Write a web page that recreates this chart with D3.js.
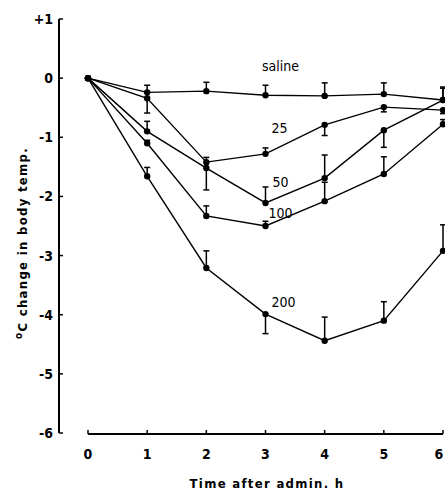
<!DOCTYPE html>
<html lang="en">
<head>
<meta charset="utf-8">
<style>
  body { margin: 0; background: #fff; }
  svg text { font-family: "DejaVu Sans Condensed", "DejaVu Sans", sans-serif; fill: #000; }
  .tick-label { font-size: 14px; font-weight: bold; }
  .series-label { font-size: 14px; }
  .axis-title { font-size: 13px; font-weight: bold; letter-spacing: 1.3px; }
</style>
<script src="https://cdn.jsdelivr.net/npm/d3@7"></script>
</head>
<body>
<svg width="445" height="492"></svg>
<script>
// hours after administration
var hours = [0, 1, 2, 3, 4, 5, 6];
var yTicks = [1, 0, -1, -2, -3, -4, -5, -6];
var yTickLabels = ["+1", "0", "-1", "-2", "-3", "-4", "-5", "-6"];

var seriesNames = ["saline", "25", "50", "100", "200"];
var saline = [0, -0.24, -0.22, -0.29, -0.30, -0.27, -0.37];
var dose25 = [0, -0.34, -1.42, -1.28, -0.79, -0.49, -0.54];
var dose50 = [0, -0.90, -1.52, -2.11, -1.69, -0.88, -0.37];
var dose100 = [0, -1.10, -2.33, -2.50, -2.08, -1.62, -0.78];
var dose200 = [0, -1.66, -3.21, -3.99, -4.44, -4.10, -2.92];

// one-sided error bars: + drawn upward, - drawn downward
var errSaline = [0, 0.12, 0.15, 0.17, 0.22, 0.19, 0.22];
var err25 = [0, -0.25, 0.08, 0.10, -0.18, -0.08, -0.06];
var err50 = [0, 0.17, -0.37, 0.27, 0.39, -0.29, 0.20];
var err100 = [0, 0.05, 0.17, 0.08, 0.32, 0.29, 0.08];
var err200 = [0, 0.15, 0.29, -0.33, 0.40, 0.32, 0.44];

// where the dose labels sit (hour, value)
var labelAt = [[2.94, 0.12], [3.1, -0.93], [3.12, -1.84], [3.05, -2.36], [3.1, -3.87]];

var svg = d3.select("svg");

var x = d3.scaleLinear().domain([0, 6]).range([88, 443]);
var y = d3.scaleLinear().domain([1, -6]).range([19, 433]);

// y axis
svg.append("line")
    .attr("x1", 59).attr("x2", 59)
    .attr("y1", y(1)).attr("y2", y(-6))
    .attr("stroke", "#000").attr("stroke-width", 2);

svg.selectAll(".ytick")
    .data(yTicks)
    .enter().append("line")
    .attr("x1", 59).attr("x2", 63)
    .attr("y1", function(d) { return y(d); })
    .attr("y2", function(d) { return y(d); })
    .attr("stroke", "#000").attr("stroke-width", 1.5);

svg.selectAll(".ylab")
    .data(yTicks)
    .enter().append("text")
    .attr("class", "tick-label")
    .attr("x", 53)
    .attr("y", function(d) { return y(d) + 5; })
    .attr("text-anchor", "end")
    .text(function(d, i) { return yTickLabels[i]; });

// x axis
svg.append("line")
    .attr("x1", x(0)).attr("x2", x(6))
    .attr("y1", 434).attr("y2", 434)
    .attr("stroke", "#000").attr("stroke-width", 2);

svg.selectAll(".xtick")
    .data(hours)
    .enter().append("line")
    .attr("x1", function(d) { return x(d); })
    .attr("x2", function(d) { return x(d); })
    .attr("y1", 434).attr("y2", 430)
    .attr("stroke", "#000").attr("stroke-width", 1.5);

svg.selectAll(".xlab")
    .data(hours)
    .enter().append("text")
    .attr("class", "tick-label")
    .attr("x", function(d) { return Math.min(x(d), 439); })
    .attr("y", 459)
    .attr("text-anchor", "middle")
    .text(function(d) { return d; });

svg.append("text")
    .attr("class", "axis-title")
    .attr("x", 267).attr("y", 488)
    .attr("text-anchor", "middle")
    .text("Time after admin.  h");

var yTitle = svg.append("text")
    .attr("class", "axis-title")
    .attr("transform", "translate(27,243) rotate(-90)")
    .attr("text-anchor", "middle");
yTitle.append("tspan").attr("dy", -5).style("font-size", "10px").text("o");
yTitle.append("tspan").attr("dy", 5).text("C change in body temp.");

// series
var allSeries = [saline, dose25, dose50, dose100, dose200];
var allErr = [errSaline, err25, err50, err100, err200];

var line = d3.line()
    .x(function(d, i) { return x(hours[i]); })
    .y(function(d) { return y(d); });

allSeries.forEach(function(vals, s) {
    var g = svg.append("g");
    g.append("path")
        .attr("d", line(vals))
        .attr("fill", "none")
        .attr("stroke", "#000")
        .attr("stroke-width", 1.4);

    var errs = allErr[s];
    hours.forEach(function(h, i) {
        if (errs[i] == 0) return;
        var yEnd = y(vals[i] + errs[i]);
        g.append("line")
            .attr("x1", x(h)).attr("x2", x(h))
            .attr("y1", y(vals[i])).attr("y2", yEnd)
            .attr("stroke", "#000").attr("stroke-width", 1.5);
        g.append("line")
            .attr("x1", x(h) - 3).attr("x2", x(h) + 3)
            .attr("y1", yEnd).attr("y2", yEnd)
            .attr("stroke", "#000").attr("stroke-width", 1.5);
    });

    g.selectAll("circle")
        .data(vals)
        .enter().append("circle")
        .attr("cx", function(d, i) { return x(hours[i]); })
        .attr("cy", function(d) { return y(d); })
        .attr("r", 3.2)
        .attr("fill", "#000");

    svg.append("text")
        .attr("class", "series-label")
        .attr("x", x(labelAt[s][0]))
        .attr("y", y(labelAt[s][1]))
        .attr("text-anchor", "start")
        .text(seriesNames[s]);
});
</script>
</body>
</html>
